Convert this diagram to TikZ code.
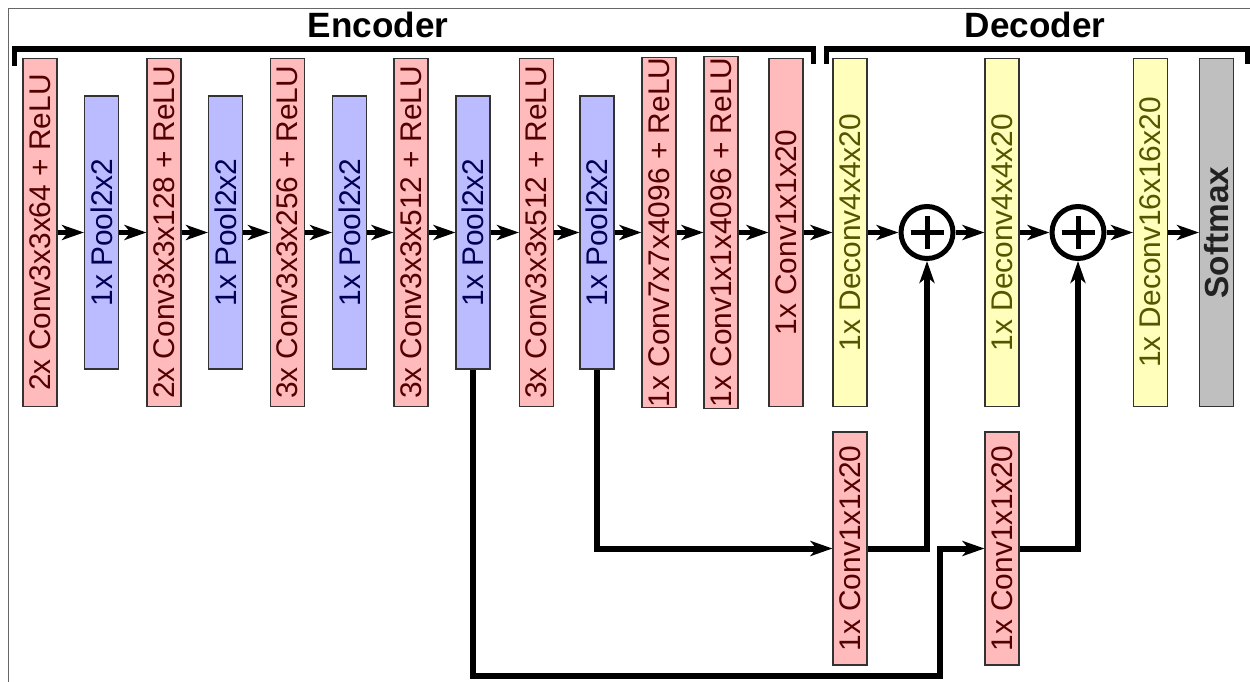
\documentclass[tikz,border=0pt]{standalone}
\usepackage{fontspec}
\setmainfont{Liberation Sans}
\usepackage{graphicx}
\usepackage{tikz}
\usetikzlibrary{arrows.meta}
\definecolor{ConvFill}{HTML}{FFBBBB}
\definecolor{ConvText}{HTML}{550000}
\definecolor{PoolFill}{HTML}{BBBBFF}
\definecolor{PoolText}{HTML}{000055}
\definecolor{DeconvFill}{HTML}{FFFFBB}
\definecolor{DeconvText}{HTML}{555500}
\definecolor{SoftmaxFill}{HTML}{BFBFBF}
\definecolor{SoftmaxText}{HTML}{222222}
\definecolor{LayerEdge}{HTML}{333333}
\definecolor{FrameGray}{HTML}{666666}
\tikzset{
    % Base layer style
    layernode/.style={
        draw=LayerEdge,
        line width=0.6pt,
        minimum width=0.68cm,
        inner sep=0pt,
        font=\fontsize{17}{20}\selectfont
    },
    % Convolution layer style
    convnode/.style={
        layernode,
        fill=ConvFill,
        text=ConvText,
        minimum height=6.98cm
    },
    % Pooling layer style
    poolnode/.style={
        layernode,
        fill=PoolFill,
        text=PoolText,
        minimum height=5.46cm
    },
    % Deconvolution layer style
    deconvnode/.style={
        layernode,
        fill=DeconvFill,
        text=DeconvText,
        minimum height=6.98cm
    },
    % Softmax layer style
    softmaxnode/.style={
        layernode,
        fill=SoftmaxFill,
        text=SoftmaxText,
        minimum height=6.98cm,
        font=\fontsize{19}{22}\selectfont\bfseries
    },
    % Skip convolution style
    skipnode/.style={
        convnode,
        minimum height=4.66cm
    },
    % Sum node
    sumnode/.style={
        circle,
        draw=black,
        line width=0.1cm,
        minimum size=1.04cm,
        inner sep=0pt,
        path picture={
            \draw[line width=0.1cm]
                ([xshift=-0.33cm]path picture bounding box.center) -- ([xshift=0.33cm]path picture bounding box.center)
                ([yshift=-0.33cm]path picture bounding box.center) -- ([yshift=0.33cm]path picture bounding box.center);
        }
    },
    % Arrow styles
    myarrow/.style={
        -{Stealth[length=0.44cm,width=0.3cm,inset=0.12cm]},
        line width=0.1cm,
        draw=black
    },
    skiparrow/.style={
        myarrow,
        line width=0.12cm
    },
    % Bracket style
    bracket/.style={
        line width=0.11cm,
        draw=black
    },
    % Title style
    titlenode/.style={
        font=\fontsize{20}{24}\selectfont\bfseries,
        anchor=base
    }
}
\begin{document}
\begin{tikzpicture}[x=0.02cm, y=-0.02cm]
        \useasboundingbox (0,0) rectangle (1250,682);
        % Frame
        \draw[FrameGray, line width=0.02cm] (8,682) -- (8,9) -- (1250,9);

        % Titles and brackets
        \node[titlenode] (enctitle) at (378,38) {Encoder};
        \node[titlenode] (dectitle) at (1035,38) {Decoder};
        \draw[bracket] (14.5,66) -- (14.5,49) -- (813.5,49) -- (813.5,64);
        \draw[bracket] (826.5,64) -- (826.5,49) -- (1248,49) -- (1248,64);

        % Encoder
        \node[convnode] (conv1) at (40,232.5) {\rotatebox{90}{2x Conv3x3x64 + ReLU}};
        \node[poolnode] (pool1) at (101.5,232.5) {\rotatebox{90}{1x Pool2x2}};
        \node[convnode] (conv2) at (164,232.5) {\rotatebox{90}{2x Conv3x3x128 + ReLU}};
        \node[poolnode] (pool2) at (225.5,232.5) {\rotatebox{90}{1x Pool2x2}};
        \node[convnode] (conv3) at (287.5,232.5) {\rotatebox{90}{3x Conv3x3x256 + ReLU}};
        \node[poolnode] (pool3) at (349.5,232.5) {\rotatebox{90}{1x Pool2x2}};
        \node[convnode] (conv4) at (411,232.5) {\rotatebox{90}{3x Conv3x3x512 + ReLU}};
        \node[poolnode] (pool4) at (473,232.5) {\rotatebox{90}{1x Pool2x2}};
        \node[convnode] (conv5) at (536.5,232.5) {\rotatebox{90}{3x Conv3x3x512 + ReLU}};
        \node[poolnode] (pool5) at (597,232.5) {\rotatebox{90}{1x Pool2x2}};
        \node[convnode] (conv6) at (659,232.5) {\rotatebox{90}{1x Conv7x7x4096 + ReLU}};
        \node[convnode, minimum height=7.04cm] (conv7) at (721,232.5) {\rotatebox{90}{1x Conv1x1x4096 + ReLU}};
        \node[convnode] (conv8) at (786,232.5) {\rotatebox{90}{1x Conv1x1x20}};

        % Decoder
        \node[deconvnode] (deconv1) at (850,232.5) {\rotatebox{90}{1x Deconv4x4x20}};
        \node[sumnode] (sum1) at (927,232.5) {};
        \node[deconvnode] (deconv2) at (1002,232.5) {\rotatebox{90}{1x Deconv4x4x20}};
        \node[sumnode] (sum2) at (1078,232.5) {};
        \node[deconvnode] (deconv3) at (1150.5,232.5) {\rotatebox{90}{1x Deconv16x16x20}};
        \node[softmaxnode] (softmax) at (1216.5,232.5) {\rotatebox{90}{Softmax}};

        % Skip branches
        \node[skipnode] (skip1) at (850,548.5) {\rotatebox{90}{1x Conv1x1x20}};
        \node[skipnode] (skip2) at (1002,548.5) {\rotatebox{90}{1x Conv1x1x20}};
        \coordinate (jog) at (940,676);

        % Main chain
        \draw[myarrow] (conv1) -- (pool1);
        \draw[myarrow] (pool1) -- (conv2);
        \draw[myarrow] (conv2) -- (pool2);
        \draw[myarrow] (pool2) -- (conv3);
        \draw[myarrow] (conv3) -- (pool3);
        \draw[myarrow] (pool3) -- (conv4);
        \draw[myarrow] (conv4) -- (pool4);
        \draw[myarrow] (pool4) -- (conv5);
        \draw[myarrow] (conv5) -- (pool5);
        \draw[myarrow] (pool5) -- (conv6);
        \draw[myarrow] (conv6) -- (conv7);
        \draw[myarrow] (conv7) -- (conv8);
        \draw[myarrow] (conv8) -- (deconv1);
        \draw[myarrow] (deconv1) -- (sum1);
        \draw[myarrow] (sum1) -- (deconv2);
        \draw[myarrow] (deconv2) -- (sum2);
        \draw[myarrow] (sum2) -- (deconv3);
        \draw[myarrow] (deconv3) -- (softmax);

        % Skip connections
        \draw[skiparrow] (pool5.south) |- (skip1.west);
        \draw[skiparrow] (skip1.east) -| (sum1.south);
        \draw[skiparrow] (pool4.south) |- (jog) |- (skip2.west);
        \draw[skiparrow] (skip2.east) -| (sum2.south);
    \end{tikzpicture}
\end{document}
